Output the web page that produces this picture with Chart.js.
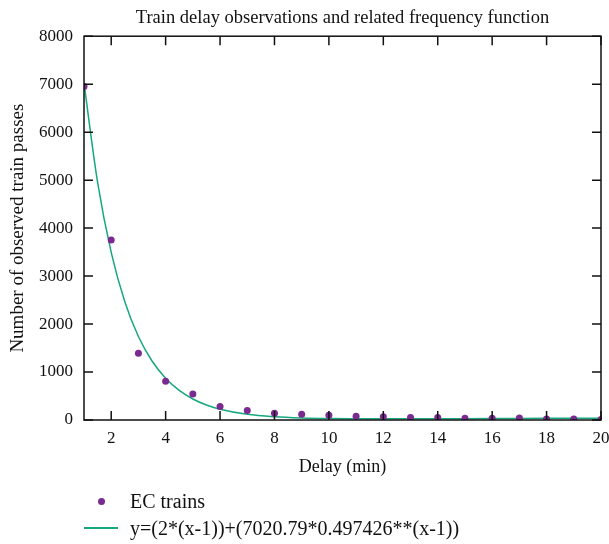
<!DOCTYPE html>
<html>
<head>
<meta charset="utf-8">
<script src="https://cdn.jsdelivr.net/npm/chart.js@4/dist/chart.umd.min.js"></script>
<style>
  body { margin: 0; background: #fff; }
  #wrap { position: relative; width: 609px; height: 544px; }
  canvas { position: absolute; left: 0; top: 0; }
  .leg { position: absolute; font: 20px "Liberation Serif", "DejaVu Serif", serif; color: #111; white-space: nowrap; line-height: 24px; }
  .dot { position: absolute; width: 7px; height: 7px; border-radius: 50%; background: #7b2a90; }
  .ln { position: absolute; height: 1.5px; background: #17a77e; }
</style>
</head>
<body>
<div id="wrap">
  <canvas id="chart" width="609" height="544"></canvas>
  <div class="dot" style="left:98px; top:498px;"></div>
  <div class="leg" style="left:130px; top:489px;">EC trains</div>
  <div class="ln" style="left:84px; width:34px; top:527px;"></div>
  <div class="leg" style="left:130px; top:516px;">y=(2*(x-1))+(7020.79*0.497426**(x-1))</div>
</div>
<script>
// observed delays (min) and counts
const delays = [1, 2, 3, 4, 5, 6, 7, 8, 9, 10, 11, 12, 13, 14, 15, 16, 17, 18, 19, 20];
const ecTrains = [6950, 3750, 1390, 810, 540, 280, 200, 140, 120, 100, 77, 70, 50, 50, 35, 35, 42, 20, 20, 10];

// fitted curve, sampled along the drawn line
const fitX = [1, 1.5, 2, 2.5, 3, 3.5, 4, 4.5, 5, 5.5, 6, 7, 8, 9, 10, 11, 12, 13, 14, 15, 16, 17, 18, 19, 20];
const fitY = [7021, 4953, 3494, 2466, 1741, 1230, 870, 616, 438, 312, 224, 118, 67, 42, 31, 27, 25, 26, 27, 28, 30, 32, 34, 36, 38];

const xTicks = [2, 4, 6, 8, 10, 12, 14, 16, 18, 20];
const yTicks = [0, 1000, 2000, 3000, 4000, 5000, 6000, 7000, 8000];

const serif = '"Liberation Serif", "DejaVu Serif", serif';

// gnuplot style frame with inward ticks on all sides
const framePlugin = {
    id: 'frame',
    afterDatasetsDraw(chart) {
        const { ctx, chartArea: a, scales } = chart;
        const len = 9;
        ctx.save();
        ctx.strokeStyle = '#111';
        ctx.lineWidth = 1.5;
        ctx.strokeRect(a.left, a.top, a.right - a.left, a.bottom - a.top);
        ctx.beginPath();
        xTicks.forEach(v => {
            const px = scales.x.getPixelForValue(v);
            ctx.moveTo(px, a.bottom); ctx.lineTo(px, a.bottom - len);
            ctx.moveTo(px, a.top); ctx.lineTo(px, a.top + len);
        });
        yTicks.forEach(v => {
            const py = scales.y.getPixelForValue(v);
            ctx.moveTo(a.left, py); ctx.lineTo(a.left + len, py);
            ctx.moveTo(a.right, py); ctx.lineTo(a.right - len, py);
        });
        ctx.stroke();
        ctx.restore();
    }
};

new Chart(document.getElementById('chart'), {
    type: 'scatter',
    data: {
        datasets: [
            {
                label: 'EC trains',
                data: delays.map((d, i) => ({ x: d, y: ecTrains[i] })),
                backgroundColor: '#7b2a90',
                borderColor: '#7b2a90',
                pointRadius: 3.5,
                pointBorderWidth: 0,
                order: 1
            },
            {
                label: 'y=(2*(x-1))+(7020.79*0.497426**(x-1))',
                type: 'line',
                data: fitX.map((d, i) => ({ x: d, y: fitY[i] })),
                borderColor: '#17a77e',
                borderWidth: 1.5,
                pointRadius: 0,
                fill: false,
                cubicInterpolationMode: 'monotone',
                order: 2
            }
        ]
    },
    options: {
        responsive: false,
        animation: false,
        layout: { padding: { left: 0, right: 0, top: 0, bottom: 66 } },
        scales: {
            x: {
                type: 'linear',
                min: 1,
                max: 20,
                afterBuildTicks: s => { s.ticks = xTicks.map(v => ({ value: v })); },
                afterFit: s => { s.paddingRight = 8; s.paddingLeft = 0; },
                grid: { display: false, drawTicks: false },
                border: { display: false },
                ticks: { color: '#111', font: { family: serif, size: 17 }, padding: 8, callback: v => String(v) },
                title: { display: true, text: 'Delay (min)', color: '#111', font: { family: serif, size: 18 }, padding: { top: 0, bottom: 0 } }
            },
            y: {
                min: 0,
                max: 8000,
                afterBuildTicks: s => { s.ticks = yTicks.map(v => ({ value: v })); },
                afterFit: s => { s.width = 84; },
                grid: { display: false, drawTicks: false },
                border: { display: false },
                ticks: { color: '#111', font: { family: serif, size: 17 }, padding: 11, callback: v => String(v) },
                title: { display: true, text: 'Number of observed train passes', color: '#111', font: { family: serif, size: 19 }, padding: { top: 7, bottom: 0 } }
            }
        },
        plugins: {
            legend: { display: false },
            tooltip: { enabled: false },
            title: {
                display: true,
                fullSize: false,
                text: 'Train delay observations and related frequency function',
                color: '#111',
                font: { family: serif, size: 18.5, weight: 'normal' },
                padding: { top: 7, bottom: 7 }
            }
        }
    },
    plugins: [framePlugin]
});
</script>
</body>
</html>
